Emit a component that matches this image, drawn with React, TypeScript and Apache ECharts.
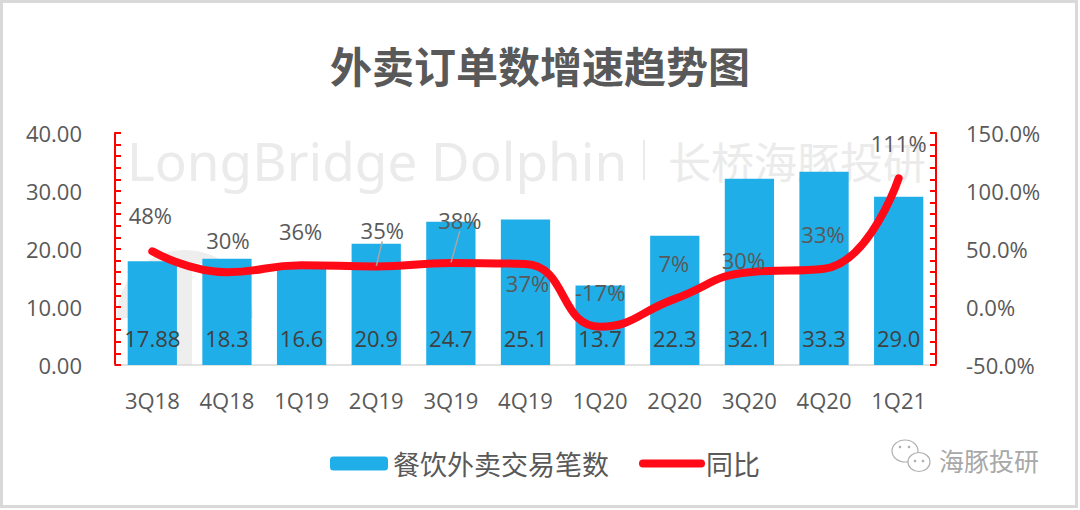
import React, { useEffect, useRef } from "react";
import * as echarts from "echarts";

const categories = ["3Q18", "4Q18", "1Q19", "2Q19", "3Q19", "4Q19", "1Q20", "2Q20", "3Q20", "4Q20", "1Q21"];
const orderCounts = [17.88, 18.3, 16.6, 20.9, 24.7, 25.1, 13.7, 22.3, 32.1, 33.3, 29.0];
const yoyPct = [48, 30, 36, 35, 38, 37, -17, 7, 30, 33, 111];
const leftTicks = { min: 0, max: 40, interval: 10 };
const rightTicks = { min: -50, max: 150, interval: 50 };
const barName = "餐饮外卖交易笔数";
const lineName = "同比";
const titleText = "外卖订单数增速趋势图";

// label placement offsets (dx, dy) relative to each point, in px
const pctLabelDx = [-2, 1, -1, 6, 9, 2, 0, -1, -6, -1, 0];
const pctLabelDy = [-36, -32, -34, -36, -43, 19, -35, -36, -12, -35, -35];
const leaderIdx = [3, 4];

const FONT = "'Open Sans', 'Noto Sans CJK SC', sans-serif";
const CJK = "'Noto Sans CJK SC', sans-serif";

function fmtBar(v: number): string {
  return Number.isInteger(Math.round(v * 100) / 10) ? v.toFixed(1) : String(v);
}

export default function App() {
  const ref = useRef<HTMLDivElement>(null);
  useEffect(() => {
    if (!ref.current) return;
    const chart = echarts.init(ref.current, undefined, { renderer: "svg" });
    const tickStyle = { color: "#FF0000", width: 2 };
    const option: any = {
      animation: false,
      backgroundColor: "#ffffff",
      title: {
        text: titleText,
        left: "center",
        top: 38,
        textStyle: { fontFamily: CJK, fontSize: 42, fontWeight: "bold", color: "#595959" },
      },
      legend: {
        left: 325,
        top: 445,
        itemWidth: 58,
        itemHeight: 14,
        itemGap: 30,
        textStyle: { fontFamily: CJK, fontSize: 27, color: "#595959" },
        data: [
          { name: barName },
          {
            name: lineName,
            itemStyle: { opacity: 0 },
            lineStyle: { width: 8, cap: "round", color: "#FF0A16" },
          },
        ],
      },
      grid: { left: 115, right: 144, top: 133, bottom: 145, containLabel: false },
      xAxis: {
        type: "category",
        data: categories,
        axisLine: { show: true, lineStyle: { color: "#D9D9D9", width: 1.5 } },
        axisTick: { show: false },
        axisLabel: { color: "#595959", fontSize: 22, fontFamily: FONT, margin: 24 },
      },
      yAxis: [
        {
          type: "value",
          position: "left",
          min: leftTicks.min,
          max: leftTicks.max,
          interval: leftTicks.interval,
          splitLine: { show: false },
          axisLine: { show: true, lineStyle: { color: "#FF0000", width: 2 } },
          axisTick: { show: true, inside: true, length: 6, lineStyle: tickStyle },
          minorTick: { show: true, splitNumber: 5, length: 6, lineStyle: tickStyle },
          axisLabel: {
            color: "#595959",
            fontSize: 22,
            fontFamily: FONT,
            margin: 33,
            formatter: (v: number) => v.toFixed(2),
          },
        },
        {
          type: "value",
          position: "right",
          min: rightTicks.min,
          max: rightTicks.max,
          interval: rightTicks.interval,
          splitLine: { show: false },
          axisLine: { show: true, lineStyle: { color: "#FF0000", width: 2 } },
          axisTick: { show: true, inside: true, length: 6, lineStyle: tickStyle },
          minorTick: { show: true, splitNumber: 5, length: 6, lineStyle: tickStyle },
          axisLabel: {
            color: "#595959",
            fontSize: 22,
            fontFamily: FONT,
            margin: 30,
            formatter: (v: number) => v.toFixed(1) + "%",
          },
        },
      ],
      graphic: [
        {
          type: "rect",
          z: 100,
          shape: { x: 1.5, y: 1.5, width: 1075, height: 505 },
          style: { fill: "none", stroke: "#D9D9D9", lineWidth: 3 },
          silent: true,
        },
        {
          type: "arc",
          z: 0,
          shape: { cx: 185, cy: 318, r: 62, startAngle: Math.PI, endAngle: 2 * Math.PI },
          style: { stroke: "#EEEEEE", lineWidth: 12, fill: "none" },
          silent: true,
        },
        {
          type: "rect",
          z: 0,
          shape: { x: 177, y: 262, width: 15, height: 103 },
          style: { fill: "#EEEEEE" },
          silent: true,
        },
        {
          type: "text",
          z: 0,
          x: 127,
          y: 160,
          style: {
            text: "LongBridge Dolphin",
            fontFamily: "'Noto Sans', sans-serif",
            fontSize: 53,
            fill: "#EBEBEB",
            verticalAlign: "middle",
          },
          silent: true,
        },
        {
          type: "rect",
          z: 0,
          shape: { x: 643, y: 140, width: 2, height: 40 },
          style: { fill: "#EBEBEB" },
          silent: true,
        },
        {
          type: "text",
          z: 0,
          x: 668,
          y: 160,
          style: {
            text: "长桥海豚投研",
            fontFamily: CJK,
            fontSize: 43,
            fill: "#EBEBEB",
            verticalAlign: "middle",
          },
          silent: true,
        },
        {
          type: "ellipse",
          z: 10,
          shape: { cx: 905, cy: 451, rx: 13, ry: 11 },
          style: { fill: "#ffffff", stroke: "#B0B0B0", lineWidth: 1.2 },
          silent: true,
        },
        {
          type: "ellipse",
          z: 11,
          shape: { cx: 919, cy: 462, rx: 11, ry: 9.5 },
          style: { fill: "#ffffff", stroke: "#B0B0B0", lineWidth: 1.2 },
          silent: true,
        },
        { type: "circle", z: 12, shape: { cx: 900, cy: 447, r: 1.3 }, style: { fill: "#B0B0B0" }, silent: true },
        { type: "circle", z: 12, shape: { cx: 909, cy: 447, r: 1.3 }, style: { fill: "#B0B0B0" }, silent: true },
        { type: "circle", z: 12, shape: { cx: 915, cy: 461, r: 1.3 }, style: { fill: "#B0B0B0" }, silent: true },
        { type: "circle", z: 12, shape: { cx: 923, cy: 461, r: 1.3 }, style: { fill: "#B0B0B0" }, silent: true },
        {
          type: "text",
          z: 10,
          x: 939,
          y: 460,
          style: {
            text: "海豚投研",
            fontFamily: CJK,
            fontSize: 25,
            fill: "#A8A8A8",
            verticalAlign: "middle",
          },
          silent: true,
        },
      ],
      series: [
        {
          name: barName,
          type: "bar",
          yAxisIndex: 0,
          data: orderCounts,
          barWidth: "66%",
          itemStyle: { color: "#20AEE8" },
          label: {
            show: true,
            position: "insideBottom",
            distance: 16,
            color: "#404040",
            fontSize: 22,
            fontFamily: FONT,
            formatter: (p: any) => fmtBar(p.value),
          },
          z: 2,
        },
        {
          name: lineName,
          type: "line",
          yAxisIndex: 1,
          smooth: 0.5,
          symbol: "circle",
          symbolSize: 1,
          itemStyle: { color: "#FF0A16" },
          lineStyle: { color: "#FF0A16", width: 8, cap: "round", join: "round" },
          data: yoyPct.map((v, i) => ({
            value: v,
            labelLine: { show: leaderIdx.includes(i) },
          })),
          label: {
            show: true,
            position: "inside",
            color: "#595959",
            fontSize: 22,
            fontFamily: FONT,
            formatter: (p: any) => p.value + "%",
          },
          labelLine: {
            show: false,
            lineStyle: { color: "#A6A6A6", width: 1.5 },
          },
          labelLayout: (params: any) => ({
            dx: pctLabelDx[params.dataIndex],
            dy: pctLabelDy[params.dataIndex],
          }),
          z: 5,
        },
      ],
    };
    chart.setOption(option);
    return () => chart.dispose();
  }, []);
  return (
    <div
      ref={ref}
      style={{ position: "absolute", left: 0, top: 0, width: 1080, height: 510 }}
    />
  );
}
